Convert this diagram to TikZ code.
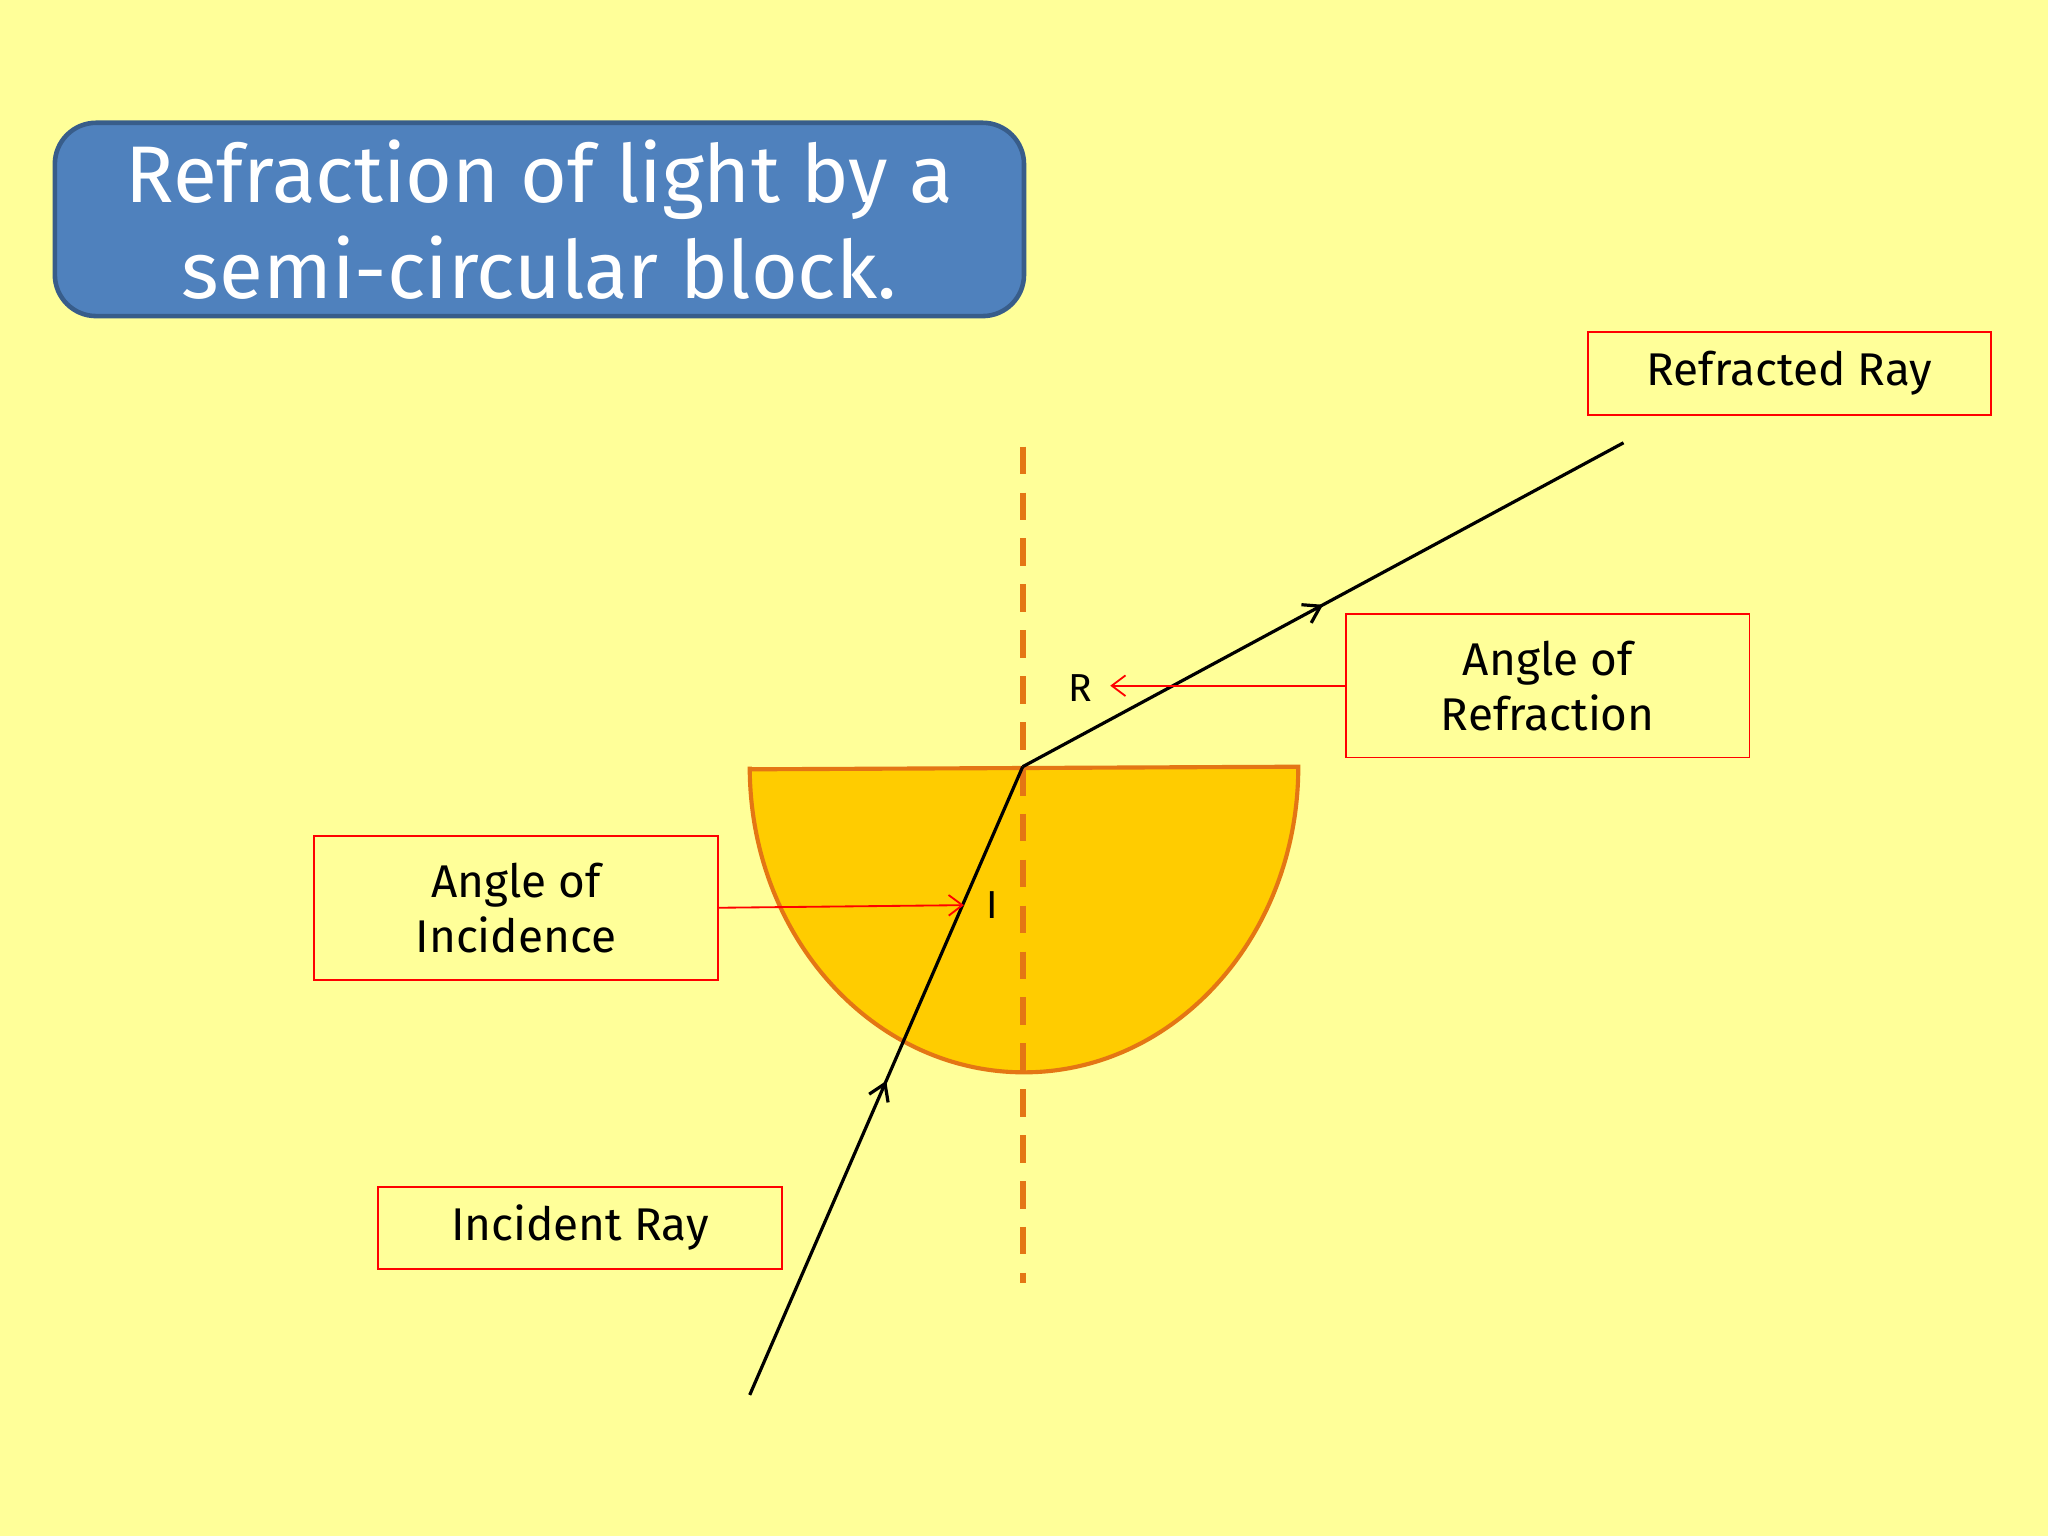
\documentclass[tikz,border=0pt]{standalone}
\usepackage{fontspec}
\setmainfont{Fira Sans}
\usetikzlibrary{decorations.markings,arrows.meta}
\definecolor{bg}{RGB}{255,255,153}
\definecolor{titlefill}{RGB}{79,129,189}
\definecolor{titleline}{RGB}{56,93,138}
\definecolor{blockfill}{RGB}{255,204,0}
\definecolor{blockline}{RGB}{228,118,20}
\tikzset{
  lab/.style={draw=red, line width=0.8pt, fill=bg, minimum width=309*0.02cm, align=center, font=\fontsize{20}{24}\selectfont},
  ray/.style={line width=1.4pt, postaction={decorate}, decoration={markings, mark=at position 0.5 with {\arrow{Straight Barb[length=7pt,width=9pt]}}}},
  pointer/.style={red, line width=0.8pt, -{Straight Barb[length=6pt,width=9pt]}}
}
\begin{document}
\begin{tikzpicture}[x=0.02cm,y=-0.02cm]
\fill[bg] (0,0) rectangle (1568,1176);
\useasboundingbox (0,0) rectangle (1568,1176);
% title
\node[draw=titleline, line width=2pt, fill=titlefill, rounded corners=18pt, minimum width=742*0.02cm, minimum height=148*0.02cm, text=white, align=center, font=\fontsize{35}{42}\selectfont] (title) at (413,168) {Refraction of light by a\\semi-circular block.};
% block
\filldraw[fill=blockfill, draw=blockline, line width=1.8pt] (574,589) -- (994,587) arc[start angle=0, end angle=180, x radius=210, y radius=234] -- cycle;
% normal
\coordinate (ntop) at (783,342);
\coordinate (nbot) at (783,982);
\draw[blockline, line width=2.5pt, dash pattern=on 12pt off 8pt] (ntop) -- (nbot);
% rays
\coordinate (src) at (574,1068);
\coordinate (P) at (783,587);
\coordinate (dst) at (1243,339);
\draw[ray] (src) -- (P);
\draw[ray] (P) -- (dst);
% labels
\node[lab, minimum height=63*0.02cm] (rr) at (1370,286) {Refracted Ray};
\node[lab, minimum height=110*0.02cm] (ar) at (1185,525) {Angle of\\Refraction};
\node[lab, minimum height=110*0.02cm] (ai) at (395,695) {Angle of\\Incidence};
\node[lab, minimum height=63*0.02cm] (ir) at (444,940) {Incident Ray};
\node[font=\fontsize{17}{20}\selectfont] (R) at (827,527) {R};
\node[font=\fontsize{17}{20}\selectfont] (I) at (760,693) {I};
\coordinate (rtip) at (850,525);
\coordinate (itip) at (738,693);
\draw[pointer] (ar.west) -- (rtip);
\draw[pointer] (ai.east) -- (itip);
\end{tikzpicture}
\end{document}
